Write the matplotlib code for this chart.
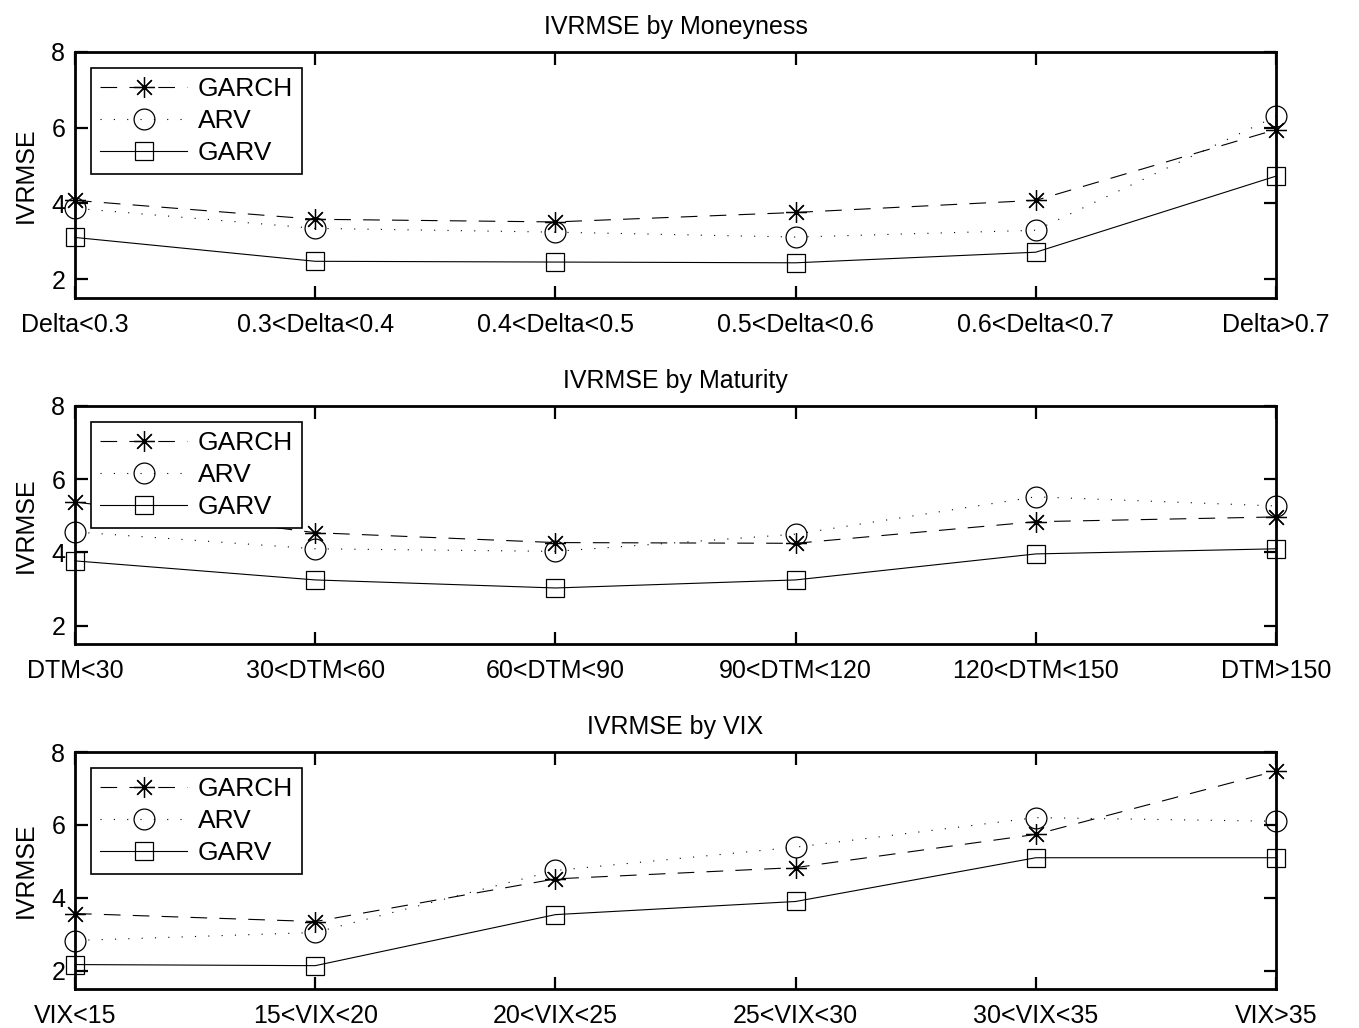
import matplotlib

matplotlib.use('Agg')
import matplotlib.pyplot as plt

plt.rcParams['font.family'] = ['Liberation Sans', 'DejaVu Sans']

models = ['GARCH', 'ARV', 'GARV']

# panel 1: moneyness
money_labels = ['Delta<0.3', '0.3<Delta<0.4', '0.4<Delta<0.5',
                '0.5<Delta<0.6', '0.6<Delta<0.7', 'Delta>0.7']
money_garch = [4.08, 3.58, 3.51, 3.76, 4.08, 5.95]
money_arv = [3.87, 3.34, 3.24, 3.11, 3.29, 6.30]
money_garv = [3.10, 2.47, 2.45, 2.43, 2.71, 4.72]

# panel 2: maturity
dtm_labels = ['DTM<30', '30<DTM<60', '60<DTM<90',
              '90<DTM<120', '120<DTM<150', 'DTM>150']
dtm_garch = [5.38, 4.54, 4.27, 4.25, 4.84, 4.97]
dtm_arv = [4.56, 4.10, 4.03, 4.50, 5.52, 5.27]
dtm_garv = [3.77, 3.25, 3.03, 3.25, 3.96, 4.10]

# panel 3: VIX
vix_labels = ['VIX<15', '15<VIX<20', '20<VIX<25',
              '25<VIX<30', '30<VIX<35', 'VIX>35']
vix_garch = [3.57, 3.35, 4.52, 4.83, 5.74, 7.48]
vix_arv = [2.83, 3.05, 4.75, 5.39, 6.20, 6.10]
vix_garv = [2.17, 2.14, 3.54, 3.90, 5.10, 5.10]

panels = [
    ('IVRMSE by Moneyness', money_labels, [money_garch, money_arv, money_garv]),
    ('IVRMSE by Maturity', dtm_labels, [dtm_garch, dtm_arv, dtm_garv]),
    ('IVRMSE by VIX', vix_labels, [vix_garch, vix_arv, vix_garv]),
]

styles = [
    dict(linestyle=(0, (15, 11)), marker=(8, 2, 0), markersize=15),
    dict(linestyle=(0, (1, 11)), marker='o', markersize=15),
    dict(linestyle='-', marker='s', markersize=13),
]

W, H = 1359, 1028
boxes = [(52, 298), (406, 644), (752, 989)]
fs = 18

fig = plt.figure(figsize=(W / 100, H / 100), dpi=100)

for (title, labels, series), (top, bot) in zip(panels, boxes):
    ax = fig.add_axes([75 / W, (H - bot) / H, 1201 / W, (bot - top) / H])
    x = list(range(len(labels)))
    for name, vals, st in zip(models, series, styles):
        ax.plot(x, vals, color='black', lw=0.8, markerfacecolor='none',
                markeredgecolor='black', markeredgewidth=0.9, label=name,
                clip_on=False, **st)
    ax.set_xlim(0, len(labels) - 1)
    ax.set_ylim(1.5, 8)
    ax.set_yticks([2, 4, 6, 8])
    ax.set_xticks(x)
    ax.set_xticklabels(labels)
    ax.tick_params(direction='in', length=9, width=1.6, top=True, right=True,
                   labelsize=fs)
    ax.tick_params(axis='x', pad=11)
    ax.tick_params(axis='y', pad=7)
    for sp in ax.spines.values():
        sp.set_linewidth(2)
        sp.set_zorder(3)
    ax.set_title(title, fontsize=fs, pad=13)
    ax.set_ylabel('IVRMSE', fontsize=fs, labelpad=10)
    leg = ax.legend(loc='upper left', fontsize=fs + 1, handlelength=3.3,
                    borderaxespad=0.6, fancybox=False, framealpha=1,
                    edgecolor='black', borderpad=0.35, labelspacing=0.3,
                    handletextpad=0.4)
    leg.get_frame().set_linewidth(1.2)
    leg.set_zorder(5)

plt.savefig('out.png', dpi=100)
